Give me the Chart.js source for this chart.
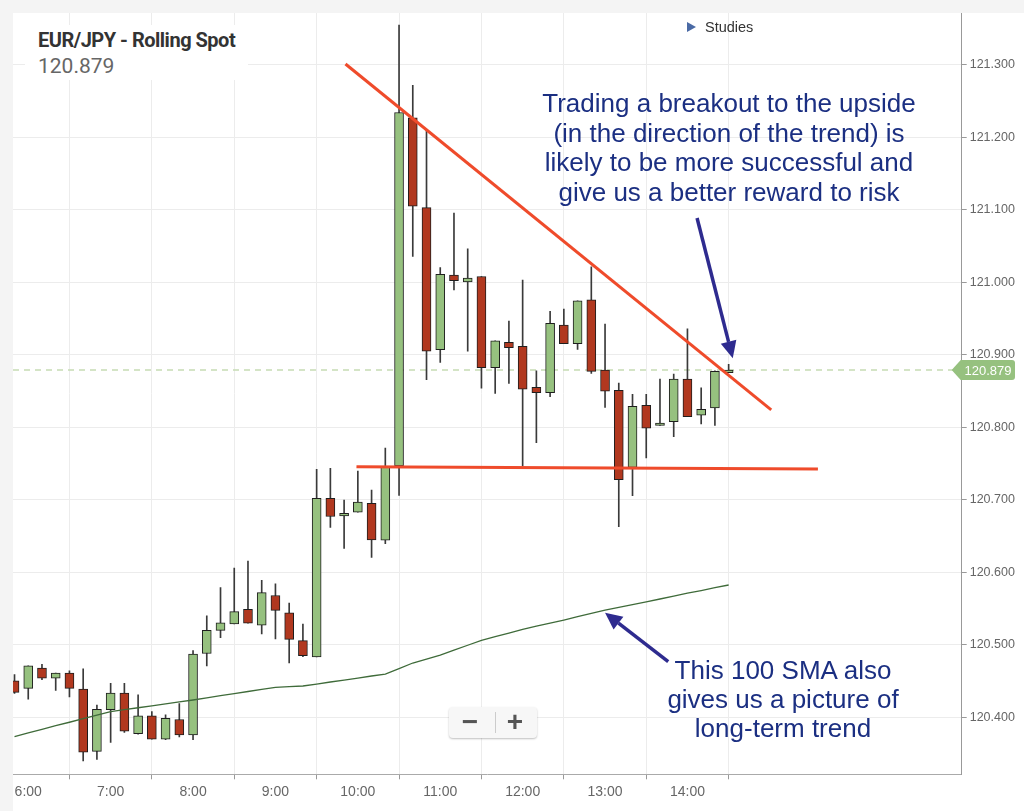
<!DOCTYPE html>
<html>
<head>
<meta charset="utf-8">
<script src="https://cdn.jsdelivr.net/npm/chart.js@4.4.1/dist/chart.umd.min.js"></script>
<style>
  html, body { margin: 0; padding: 0; background: #f4f4f4; }
  #wrap { position: relative; width: 1024px; height: 811px; overflow: hidden; }
  canvas { position: absolute; left: 0; top: 0; }
  .ov { position: absolute; white-space: nowrap; pointer-events: none; }
  .note { font-family: "Liberation Sans", Arial, sans-serif; font-size: 26px; color: #1b2f82; text-align: center; width: 400px; }
</style>
</head>
<body>
<div id="wrap">
  <canvas id="priceChart" width="1024" height="811"></canvas>

  <div class="ov" style="left:25px;top:25px;width:223px;height:55px;background:#fff;"></div>
  <div class="ov" style="left:38px;top:30px;font:bold 20px/20px Roboto,sans-serif;letter-spacing:-0.5px;color:#333;">EUR/JPY - Rolling Spot</div>
  <div class="ov" style="left:38px;top:56px;font:21px/21px Roboto,sans-serif;color:#666;">120.879</div>

  <div class="ov" style="left:687px;top:22px;width:0;height:0;border-left:9px solid #4a6aa5;border-top:5.5px solid transparent;border-bottom:5.5px solid transparent;"></div>
  <div class="ov" style="left:705px;top:20px;font:14.5px/15px 'Liberation Sans',Arial,sans-serif;color:#333;">Studies</div>

  <div class="ov note" style="left:529px;top:89px;line-height:29.7px;">Trading a breakout to the upside<br>(in the direction of the trend) is<br>likely to be more successful and<br>give us a better reward to risk</div>
  <div class="ov note" style="left:583px;top:656px;line-height:29.2px;">This 100 SMA also<br>gives us a picture of<br>long-term trend</div>

  <div class="ov" style="left:449px;top:707px;width:88px;height:31px;background:#f7f7f7;border-radius:4px;box-shadow:0 1px 2px rgba(0,0,0,0.25);"></div>
  <div class="ov" style="left:495px;top:712px;width:1px;height:21px;background:#ccc;"></div>
  <div class="ov" style="left:456px;top:706px;width:28px;text-align:center;font:bold 28px/31px 'Liberation Sans',Arial,sans-serif;color:#555;">&minus;</div>
  <div class="ov" style="left:501px;top:706px;width:28px;text-align:center;font:bold 28px/31px 'Liberation Sans',Arial,sans-serif;color:#555;">+</div>
</div>

<script>
// 10-minute candles, EUR/JPY
const times = ["5:50", "6:00", "6:10", "6:20", "6:30", "6:40", "6:50", "7:00", "7:10", "7:20", "7:30", "7:40", "7:50",
  "8:00", "8:10", "8:20", "8:30", "8:40", "8:50", "9:00", "9:10", "9:20", "9:30", "9:40", "9:50",
  "10:00", "10:10", "10:20", "10:30", "10:40", "10:50", "11:00", "11:10", "11:20", "11:30", "11:40", "11:50",
  "12:00", "12:10", "12:20", "12:30", "12:40", "12:50", "13:00", "13:10", "13:20", "13:30", "13:40", "13:50",
  "14:00", "14:10", "14:20", "14:30"];
const open = [120.4505, 120.440, 120.468, 120.454, 120.461, 120.439, 120.353, 120.4105, 120.4335, 120.3774, 120.402, 120.370, 120.397,
  120.3756, 120.488, 120.520, 120.5287, 120.549, 120.527, 120.568, 120.544, 120.5057, 120.4832, 120.702, 120.6777,
  120.6828, 120.695, 120.6443, 120.7466, 121.227, 121.103, 120.907, 121.010, 121.0004, 121.008, 120.8823, 120.9172,
  120.9117, 120.8552, 120.8477, 120.9411, 120.9153, 120.976, 120.879, 120.851, 120.7448, 120.8303, 120.8028, 120.8077,
  120.8666, 120.8166, 120.8266, 120.8753];
const high = [120.459, 120.471, 120.473, 120.461, 120.464, 120.467, 120.417, 120.447, 120.447, 120.431, 120.408, 120.4036, 120.419,
  120.492, 120.540, 120.579, 120.606, 120.6156, 120.589, 120.584, 120.5577, 120.5287, 120.742, 120.7434, 120.6997,
  120.7397, 120.7135, 120.7714, 121.355, 121.2717, 121.2108, 121.0204, 121.0956, 121.0461, 121.008, 120.9194, 120.9466,
  121.0032, 120.878, 120.960, 120.9632, 120.9746, 121.0215, 120.9425, 120.8611, 120.8455, 120.8455, 120.8666, 120.8735,
  120.936, 120.8546, 120.878, 120.8869];
const low = [120.433, 120.425, 120.452, 120.437, 120.428, 120.340, 120.342, 120.3655, 120.379, 120.3766, 120.370, 120.369, 120.373,
  120.369, 120.471, 120.510, 120.5287, 120.530, 120.515, 120.508, 120.475, 120.4836, 120.4832, 120.662, 120.633,
  120.6828, 120.6207, 120.6394, 120.706, 121.0356, 120.8657, 120.8894, 120.9894, 120.905, 120.854, 120.8466, 120.8607,
  120.7466, 120.7788, 120.8422, 120.9153, 120.9076, 120.8745, 120.8276, 120.6629, 120.7057, 120.7577, 120.8028, 120.787,
  120.8146, 120.8046, 120.8028, 120.8753];
const close = [120.4345, 120.471, 120.454, 120.461, 120.440, 120.352, 120.411, 120.4335, 120.381, 120.402, 120.370, 120.3986, 120.3756,
  120.4873, 120.520, 120.5305, 120.5457, 120.530, 120.572, 120.5476, 120.5076, 120.485, 120.702, 120.677, 120.6814,
  120.697, 120.6446, 120.7457, 121.2342, 121.105, 120.905, 121.011, 121.0023, 121.006, 120.8823, 120.9194, 120.9098,
  120.8528, 120.8477, 120.9434, 120.9153, 120.9746, 120.8772, 120.8497, 120.7277, 120.829, 120.799, 120.806, 120.8666,
  120.8146, 120.8248, 120.8772, 120.879];
const sma100 = [120.3735, 120.3786, 120.3834, 120.3884, 120.3932, 120.3982, 120.4030, 120.4080, 120.4105, 120.4132, 120.4159, 120.4186, 120.4212,
  120.4239, 120.4268, 120.4298, 120.4327, 120.4356, 120.4385, 120.4414, 120.4423, 120.4432, 120.4459, 120.4487, 120.4514,
  120.4542, 120.4570, 120.4597, 120.4672, 120.4749, 120.4804, 120.4857, 120.4926, 120.4994, 120.5061, 120.5112, 120.5161,
  120.5212, 120.5257, 120.5299, 120.5342, 120.5388, 120.5433, 120.5477, 120.5516, 120.5554, 120.5593, 120.5632, 120.5672,
  120.5712, 120.5749, 120.5788, 120.5825];
const lastPrice = 120.879;

// hand drawn lines: [time, price]
const resistance = [["9:51", 121.3011], ["15:01", 120.824]];
const support = [["9:59", 120.7457], ["15:35", 120.7425]];
const arrowTrade = [["14:07", 121.0888], ["14:33", 120.8952]];
const arrowSma = [["13:46", 120.4767], ["13:00", 120.5443]];

const yTicks = [120.4, 120.5, 120.6, 120.7, 120.8, 120.9, 121.0, 121.1, 121.2, 121.3];

function toMin(s) {
  const p = s.split(':');
  return parseInt(p[0]) * 60 + parseInt(p[1]);
}
function fmtTime(m) {
  const h = Math.floor(m / 60), mm = m % 60;
  return h + ':' + (mm < 10 ? '0' : '') + mm;
}

const xs = times.map(toMin);
const green = '#96c17f', red = '#b1381f';
const bodies = xs.map((x, i) => ({ x: x, y: [open[i], close[i]] }));
const wicks = xs.map((x, i) => ({ x: x, y: [low[i], high[i]] }));
const candleColor = c => close[c.dataIndex] >= open[c.dataIndex] ? green : red;
const xMin = 348.9, xMax = 1039.7;

const backdrop = {
  id: 'backdrop',
  beforeDraw(chart) {
    const c = chart.ctx;
    c.save();
    c.fillStyle = '#f4f4f4';
    c.fillRect(0, 0, chart.width, chart.height);
    c.fillStyle = '#ffffff';
    c.fillRect(13, 13, chart.width - 13, chart.height - 13);
    c.restore();
  }
};

function arrow(c, x1, y1, x2, y2) {
  const a = Math.atan2(y2 - y1, x2 - x1), len = 17, w = 8;
  const bx = x2 - len * Math.cos(a), by = y2 - len * Math.sin(a);
  c.beginPath();
  c.moveTo(x1, y1);
  c.lineTo(bx, by);
  c.stroke();
  c.beginPath();
  c.moveTo(x2, y2);
  c.lineTo(bx + w * Math.sin(a), by - w * Math.cos(a));
  c.lineTo(bx - w * Math.sin(a), by + w * Math.cos(a));
  c.closePath();
  c.fill();
}

const extras = {
  id: 'extras',
  afterDraw(chart) {
    const c = chart.ctx, xs_ = chart.scales.x, ys_ = chart.scales.y;
    c.save();
    c.strokeStyle = '#2e2b8f';
    c.fillStyle = '#2e2b8f';
    c.lineWidth = 3.5;
    [arrowTrade, arrowSma].forEach(a => {
      arrow(c, xs_.getPixelForValue(toMin(a[0][0])), ys_.getPixelForValue(a[0][1]),
        xs_.getPixelForValue(toMin(a[1][0])), ys_.getPixelForValue(a[1][1]));
    });
    // last price tag
    const py = ys_.getPixelForValue(lastPrice), left = chart.chartArea.right - 10;
    c.fillStyle = '#96c17f';
    c.beginPath();
    c.moveTo(left, py);
    c.lineTo(left + 9, py - 10);
    c.lineTo(1012, py - 10);
    c.quadraticCurveTo(1015, py - 10, 1015, py - 7);
    c.lineTo(1015, py + 7);
    c.quadraticCurveTo(1015, py + 10, 1012, py + 10);
    c.lineTo(left + 9, py + 10);
    c.closePath();
    c.fill();
    c.fillStyle = '#fff';
    c.font = '13px "Liberation Sans", Arial, sans-serif';
    c.textAlign = 'center';
    c.textBaseline = 'middle';
    c.fillText(lastPrice.toFixed(3), 988, py + 1);
    c.restore();
  }
};

Chart.defaults.font.family = '"Liberation Sans", Arial, sans-serif';

new Chart(document.getElementById('priceChart'), {
  type: 'bar',
  data: {
    datasets: [
      {
        type: 'line',
        data: [{ x: xMin, y: lastPrice }, { x: xMax, y: lastPrice }],
        borderColor: '#c6dcb4',
        borderWidth: 1.5,
        borderDash: [6, 5],
        pointRadius: 0,
        order: 5
      },
      {
        data: wicks,
        backgroundColor: '#3a3a3a',
        borderWidth: 0,
        barThickness: 1,
        grouped: false,
        order: 4
      },
      {
        data: bodies,
        backgroundColor: candleColor,
        borderColor: '#1e1e1e',
        borderWidth: 1,
        borderSkipped: false,
        barThickness: 9,
        grouped: false,
        order: 3
      },
      {
        type: 'line',
        data: xs.map((x, i) => ({ x: x, y: sma100[i] })),
        borderColor: '#3f6b3a',
        borderWidth: 1.3,
        pointRadius: 0,
        tension: 0,
        order: 2
      },
      {
        type: 'line',
        data: resistance.map(p => ({ x: toMin(p[0]), y: p[1] })),
        borderColor: '#ef4b2b',
        borderWidth: 3,
        pointRadius: 0,
        order: 1
      },
      {
        type: 'line',
        data: support.map(p => ({ x: toMin(p[0]), y: p[1] })),
        borderColor: '#ef4b2b',
        borderWidth: 3,
        pointRadius: 0,
        order: 1
      }
    ]
  },
  options: {
    responsive: false,
    devicePixelRatio: 1,
    animation: false,
    layout: { padding: { left: 13, top: 13, right: 0, bottom: 0 } },
    plugins: { legend: { display: false }, tooltip: { enabled: false } },
    scales: {
      x: {
        type: 'linear',
        min: xMin,
        max: xMax,
        offset: false,
        afterFit: s => { s.height = 36.7; },
        afterBuildTicks: s => { s.ticks = s.ticks.filter(t => t.value >= 360 && t.value <= 840); },
        ticks: {
          stepSize: 60,
          includeBounds: false,
          maxRotation: 0,
          autoSkip: false,
          color: '#666',
          font: { size: 14 },
          padding: 4,
          callback: v => fmtTime(v)
        },
        grid: { color: '#ececec', tickColor: '#999', tickLength: 5 },
        border: { color: '#aaa' }
      },
      y: {
        position: 'right',
        min: 120.3214,
        max: 121.3715,
        afterFit: s => { s.width = 62.3; },
        afterBuildTicks: s => { s.ticks = yTicks.map(v => ({ value: v })); },
        ticks: {
          color: '#666',
          font: { size: 12.5 },
          padding: 3,
          callback: v => v.toFixed(3)
        },
        grid: { color: '#ececec', tickColor: '#999', tickLength: 5 },
        border: { color: '#999' }
      }
    }
  },
  plugins: [backdrop, extras]
});
</script>
</body>
</html>
